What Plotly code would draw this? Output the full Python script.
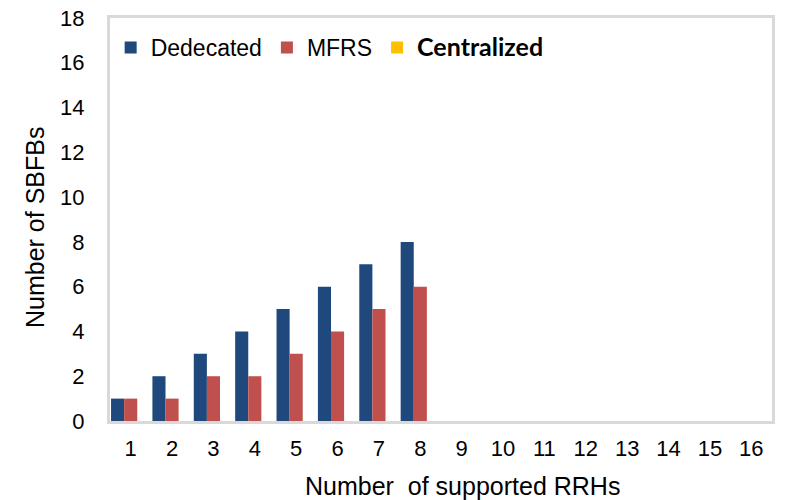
import plotly.graph_objects as go

categories = [str(i) for i in range(1, 17)]
dedicated = [1, 2, 3, 4, 5, 6, 7, 8, 0, 0, 0, 0, 0, 0, 0, 0]
mfrs = [1, 1, 2, 2, 3, 4, 5, 6, 0, 0, 0, 0, 0, 0, 0, 0]
centralized = [0] * 16
y_ticks = list(range(0, 19, 2))

fig = go.Figure()
fig.add_trace(go.Bar(x=categories, y=dedicated, name="Dedecated", marker_color="#1F497D", marker_line_width=0))
fig.add_trace(go.Bar(x=categories, y=mfrs, name="MFRS", marker_color="#C0504D", marker_line_width=0))
fig.add_trace(go.Bar(x=categories, y=centralized,
                     name='<span style="font-family:Lato;font-size:25px"><b>Centralized</b></span>',
                     marker_color="#FFC000", marker_line_width=0))

fig.update_layout(
    width=787, height=500,
    margin=dict(l=110, r=15, t=18, b=79, autoexpand=False),
    paper_bgcolor="white", plot_bgcolor="white",
    barmode="group", bargap=0.05, bargroupgap=0,
    font=dict(family="Liberation Sans, Arial", size=22, color="#000000"),
    showlegend=True,
    legend=dict(orientation="h", x=0.001, y=0.98, xanchor="left", yanchor="top",
                bgcolor="rgba(0,0,0,0)", font=dict(size=23), itemwidth=30,
                traceorder="normal"),
    xaxis=dict(type="category", categoryorder="array", categoryarray=categories,
               automargin=False,
               showline=True, linecolor="#D9D9D9", linewidth=3, mirror=True,
               showgrid=False, ticks="outside", ticklen=6, tickcolor="rgba(0,0,0,0)",
               tickfont=dict(size=22)),
    yaxis=dict(range=[0, 18], tickvals=y_ticks, automargin=False,
               showline=True, linecolor="#D9D9D9",
               linewidth=3, mirror=True, showgrid=False, zeroline=False,
               ticks="outside", ticklen=18, tickcolor="rgba(0,0,0,0)",
               tickfont=dict(size=22)),
    annotations=[
        dict(text="Number  of supported RRHs", xref="paper", yref="paper",
             x=(463 - 110) / 662, y=-(486 - 421) / 403, xanchor="center", yanchor="middle",
             showarrow=False, font=dict(size=25)),
        dict(text="Number of SBFBs", xref="paper", yref="paper",
             x=-(110 - 35) / 662, y=(421 - 228) / 403, xanchor="center", yanchor="middle",
             textangle=-90, showarrow=False, font=dict(size=25)),
    ],
)

fig.write_html("out.html", config={"displayModeBar": False},
               post_script="document.body.style.margin='0';")
